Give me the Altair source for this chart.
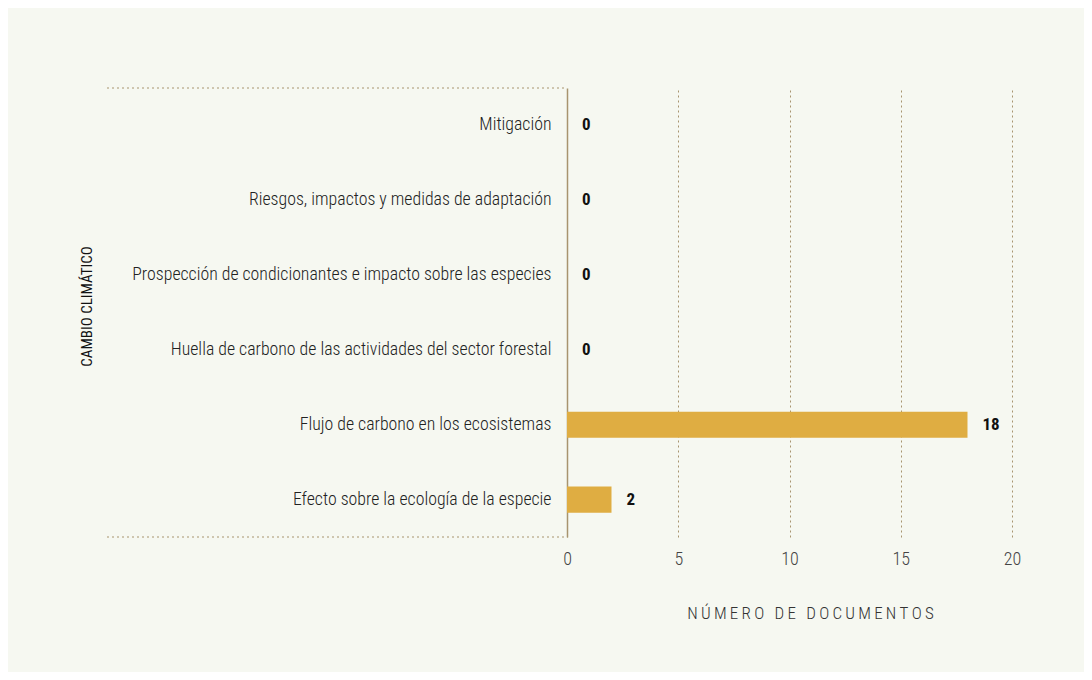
import altair as alt
import pandas as pd

categories = [
    "Mitigación",
    "Riesgos, impactos y medidas de adaptación",
    "Prospección de condicionantes e impacto sobre las especies",
    "Huella de carbono de las actividades del sector forestal",
    "Flujo de carbono en los ecosistemas",
    "Efecto sobre la ecología de la especie",
]
values = [0, 0, 0, 0, 18, 2]
x_ticks = [0, 5, 10, 15, 20]
x_title = "NÚMERO DE DOCUMENTOS"

df = pd.DataFrame({"cat": categories, "val": values})

FONT = "'Roboto Condensed', Roboto"
W, H = 445, 449
LINE = "#a8946f"

spaced_title = "\u2009".join(list(x_title))

y_enc = alt.Y(
    "cat:N",
    sort=categories,
    scale=alt.Scale(paddingInner=0.65, paddingOuter=0.325),
    axis=alt.Axis(
        title="CAMBIO CLIMÁTICO",
        titleFont=FONT,
        titleFontSize=15,
        titleFontWeight="normal",
        titleColor="#111111",
        titleX=-481,
        titleY=218,
        titleBaseline="middle",
        titleAngle=-90,
        labelFont=FONT,
        labelFontSize=17.8,
        labelFontWeight=300,
        labelColor="#222222",
        labelPadding=16,
        labelLimit=600,
        ticks=False,
        domain=True,
        domainColor=LINE,
        domainWidth=1.5,
        grid=False,
    ),
)

x_enc = alt.X(
    "val:Q",
    scale=alt.Scale(domain=[0, 20], nice=False),
    axis=alt.Axis(
        values=x_ticks,
        title=spaced_title,
        titleFont=FONT,
        titleFontSize=17,
        titleFontWeight=300,
        titleColor="#333333",
        titleX=243,
        titleY=76,
        titleAlign="center",
        titleBaseline="middle",
        labelFont=FONT,
        labelFontSize=18,
        labelFontWeight=300,
        labelColor="#444444",
        labelPadding=13,
        labelFlush=False,
        ticks=False,
        domain=False,
        grid=True,
        gridColor=LINE,
        gridDash=[2, 3],
        gridWidth=1,
    ),
)

bars = alt.Chart(df).mark_bar(color="#dfad42").encode(x=x_enc, y=y_enc)

labels = alt.Chart(df).mark_text(
    align="left", baseline="middle", dx=15, font=FONT, fontSize=17,
    fontWeight="bold", color="#111111"
).encode(
    x=alt.X("val:Q"),
    y=alt.Y("cat:N", sort=categories),
    text=alt.Text("val:Q"),
)

edge_df = pd.DataFrame({"pos": ["top", "bottom"]})
top_line = alt.Chart(edge_df.iloc[:1]).mark_rule(
    color=LINE, strokeDash=[2, 3], strokeWidth=1, clip=False
).encode(x=alt.value(-460), x2=alt.value(0), y=alt.value(0))
bottom_line = alt.Chart(edge_df.iloc[1:]).mark_rule(
    color=LINE, strokeDash=[2, 3], strokeWidth=1, clip=False
).encode(x=alt.value(-460), x2=alt.value(0), y=alt.value(H))

chart = alt.layer(bars, labels, top_line, bottom_line).properties(
    width=W,
    height=H,
    background="#f6f8f1",
    padding={"left": 559, "top": 80, "right": 72, "bottom": 135},
    autosize=alt.AutoSizeParams(type="none"),
).configure_view(stroke=None)

chart.save("out.html", embed_options={"renderer": "svg", "actions": False})
